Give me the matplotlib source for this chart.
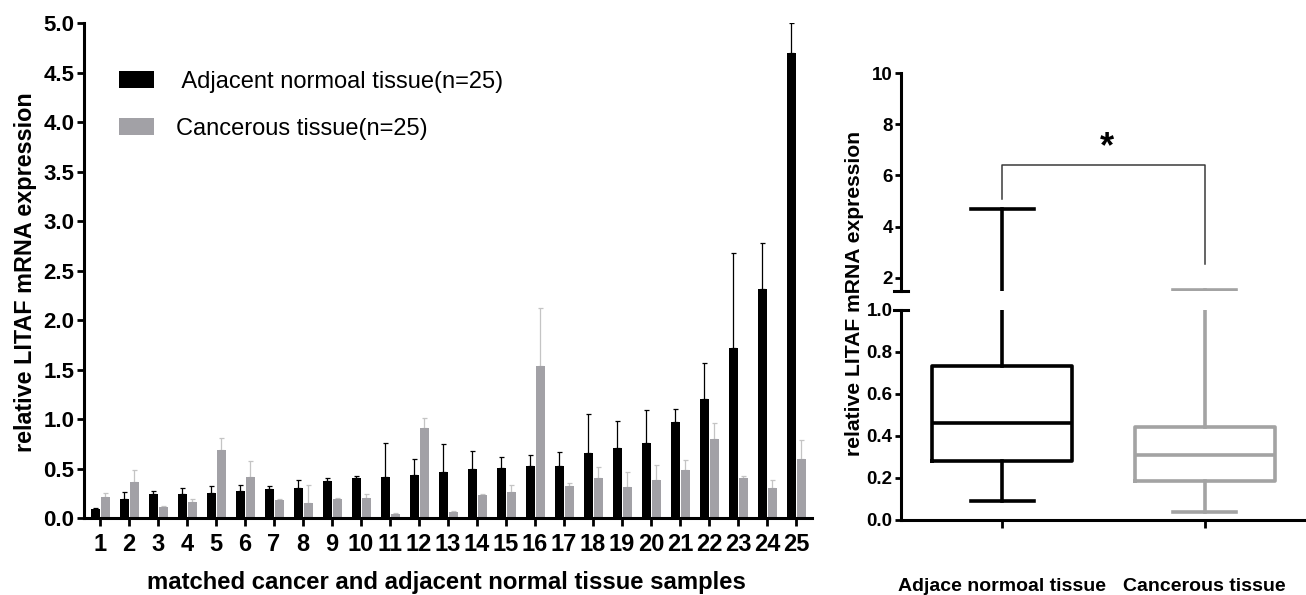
import matplotlib
matplotlib.use("Agg")
import matplotlib.pyplot as plt
import numpy as np
from matplotlib.patches import Patch

plt.rcParams["font.family"] = ["Liberation Sans", "DejaVu Sans"]

# ---------------- data ----------------
samples = [str(i) for i in range(1, 26)]
adjacent = [0.09, 0.19, 0.24, 0.24, 0.25, 0.27, 0.29, 0.30, 0.37, 0.40, 0.41, 0.43, 0.46,
            0.49, 0.51, 0.53, 0.53, 0.66, 0.71, 0.76, 0.97, 1.20, 1.72, 2.31, 4.70]
adjacent_err = [0.01, 0.07, 0.03, 0.06, 0.07, 0.06, 0.03, 0.08, 0.03, 0.02, 0.35, 0.17, 0.29,
                0.19, 0.11, 0.11, 0.14, 0.39, 0.27, 0.33, 0.13, 0.37, 0.96, 0.47, 0.30]
cancer = [0.21, 0.36, 0.11, 0.16, 0.69, 0.41, 0.18, 0.15, 0.19, 0.20, 0.04, 0.91, 0.06,
          0.23, 0.26, 1.54, 0.32, 0.40, 0.31, 0.38, 0.48, 0.80, 0.40, 0.30, 0.60]
cancer_err = [0.04, 0.12, 0.01, 0.03, 0.12, 0.17, 0.01, 0.18, 0.01, 0.04, 0.01, 0.10, 0.01,
              0.01, 0.07, 0.58, 0.03, 0.12, 0.15, 0.16, 0.11, 0.16, 0.02, 0.08, 0.19]
group_names = ["Adjace normoal tissue", "Cancerous tissue"]

BLACK = "#000000"
GRAY = "#a2a1a6"
GRAY_ERR = "#c4c4c4"
BOX_GRAY = "#a3a3a3"

fig = plt.figure(figsize=(13.06, 5.95), dpi=100)

# ---------------- left: paired bars ----------------
ax = fig.add_axes([0.0643, 0.1294, 0.5574, 0.8319])
x = np.arange(1, len(samples) + 1)
w = 0.33
ax.bar(x - 0.16, adjacent, w, color=BLACK, zorder=2)
ax.bar(x + 0.19, cancer, w, color=GRAY, zorder=2)
ax.errorbar(x - 0.16, adjacent, yerr=[np.zeros(len(x)), adjacent_err], fmt="none",
            ecolor=BLACK, elinewidth=0.9, capsize=1.8, capthick=0.9, zorder=1)
ax.errorbar(x + 0.19, cancer, yerr=[np.zeros(len(x)), cancer_err], fmt="none",
            ecolor=GRAY_ERR, elinewidth=0.9, capsize=1.8, capthick=0.9, zorder=1)

ax.set_xlim(0.45, 25.55)
ax.set_ylim(0, 5.0)
ax.set_yticks(np.arange(0, 5.01, 0.5))
ax.set_yticklabels([f"{v:.1f}" for v in np.arange(0, 5.01, 0.5)])
ax.set_xticks(x)
ax.set_xticklabels(samples)
for s in ["top", "right"]:
    ax.spines[s].set_visible(False)
for s in ["left", "bottom"]:
    ax.spines[s].set_linewidth(2.2)
ax.tick_params(axis="y", length=5, width=2, labelsize=16, pad=2)
ax.tick_params(axis="x", length=6, width=2, labelsize=17, pad=5)
for lab in ax.get_xticklabels() + ax.get_yticklabels():
    lab.set_fontweight("bold")

handles = [Patch(facecolor=BLACK, label=" Adjacent normoal tissue(n=25)"),
           Patch(facecolor=GRAY, label="Cancerous tissue(n=25)")]
ax.legend(handles=handles, loc="upper left", bbox_to_anchor=(0.035, 0.922), frameon=False,
          fontsize=17, handlelength=1.5, handleheight=0.75, handletextpad=0.9,
          labelspacing=1.05, borderaxespad=0)

fig.text(0.0195, 1 - 272 / 595, "relative LITAF mRNA expression", rotation=90, ha="center",
         va="center", fontsize=16.8, fontweight="bold")
fig.text(0.342, 1 - 582 / 595, "matched cancer and adjacent normal tissue samples",
         ha="center", va="center", fontsize=17.2, fontweight="bold")

# ---------------- right: broken-axis box plot ----------------
def box_stats(vals):
    q1, med, q3 = np.percentile(vals, [25, 50, 75], method="weibull")
    return dict(med=med, q1=q1, q3=q3, whislo=min(vals), whishi=max(vals), fliers=[])

stats = [box_stats(adjacent), box_stats(cancer)]
colors = [BLACK, BOX_GRAY]

ax_lo = fig.add_axes([0.6899, 1 - 520 / 595, 0.3101, 210 / 595])
ax_hi = fig.add_axes([0.6899, 1 - 291 / 595, 0.3101, 218 / 595])

for a in (ax_lo, ax_hi):
    for i, (st, c) in enumerate(zip(stats, colors)):
        props = dict(color=c, linewidth=2.6)
        a.bxp([st], positions=[i + 1], widths=0.69, capwidths=0.31, showfliers=False,
              boxprops=props, whiskerprops=props, capprops=props, medianprops=props)
    a.set_xlim(0.5, 2.5)
    a.spines["top"].set_visible(False)
    a.spines["right"].set_visible(False)
    a.spines["left"].set_linewidth(2.2)
    a.spines["bottom"].set_linewidth(2.2)
    a.tick_params(axis="y", length=4, width=2, labelsize=13.5, pad=2)

ax_lo.set_ylim(0, 1.0)
ax_lo.set_yticks(np.arange(0, 1.01, 0.2))
ax_lo.set_yticklabels([f"{v:.1f}" for v in np.arange(0, 1.01, 0.2)])
ax_lo.set_xticks([1, 2])
ax_lo.set_xticklabels(group_names)
ax_lo.tick_params(axis="x", length=6, width=2, labelsize=14, pad=36)

ax_hi.set_ylim(1.49, 10)
ax_hi.set_yticks([2, 4, 6, 8, 10])
ax_hi.set_yticklabels(["2", "4", "6", "8", "10"])
ax_hi.spines["bottom"].set_visible(False)
ax_hi.set_xticks([])

for a in (ax_lo, ax_hi, ax):
    for lab in a.get_xticklabels() + a.get_yticklabels():
        lab.set_fontweight("bold")

# break marks
ax_hi.plot([-0.018, 0.018], [0, 0], transform=ax_hi.transAxes, color=BLACK, lw=2.2,
           clip_on=False)
ax_lo.plot([-0.018, 0.018], [1, 1], transform=ax_lo.transAxes, color=BLACK, lw=2.2,
           clip_on=False)

# significance bracket
ax_hi.plot([1, 1, 2, 2], [5.08, 6.39, 6.39, 2.53], color="#3a3a3a", lw=1.1)
ax_hi.text(1.515, 7.1, "*", ha="center", va="center", fontsize=26, fontweight="bold")

fig.text(855 / 1306, 1 - 294 / 595, "relative LITAF mRNA expression", rotation=90,
         ha="center", va="center", fontsize=15.2, fontweight="bold")

fig.savefig("out.png", dpi=100, facecolor="white")
